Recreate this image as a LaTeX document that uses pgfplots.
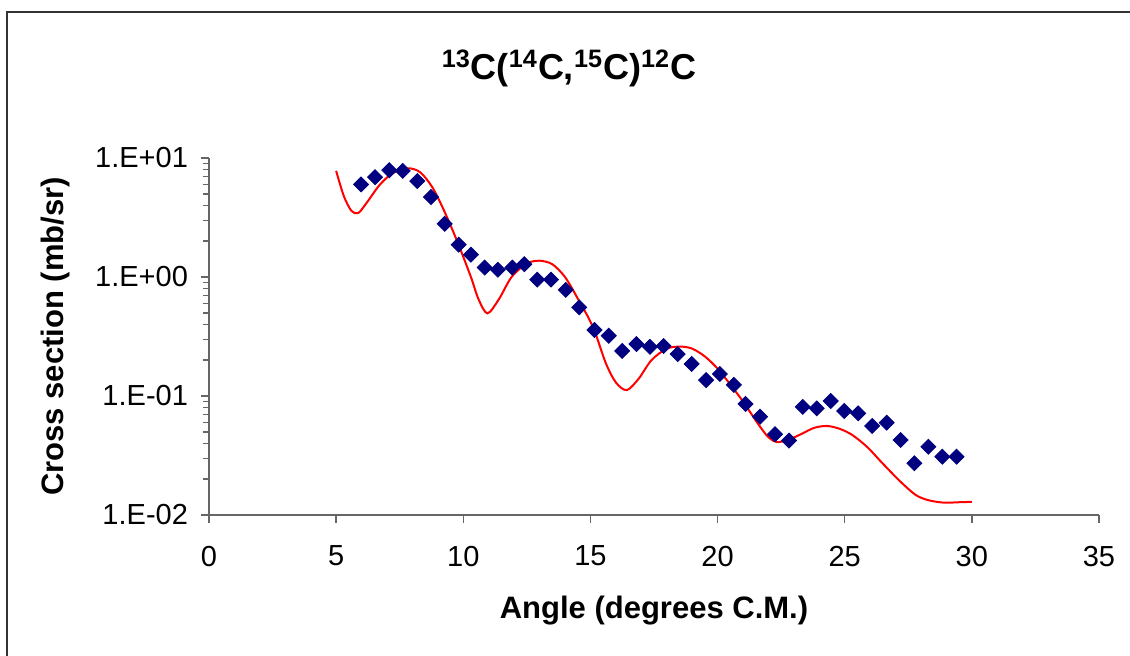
\documentclass[border=0pt]{standalone}
\usepackage{fontspec}
\setmainfont{Liberation Sans}
\usepackage{pgfplots}
\pgfplotsset{compat=1.18}
\definecolor{ptnavy}{RGB}{0,0,128}
\definecolor{fitred}{RGB}{255,0,0}
\begin{document}
\begin{tikzpicture}
\useasboundingbox (-104.5pt,-70.5pt) rectangle (460.5pt,257.5pt);
% outer chart frame (right and bottom edges lie outside the picture)
\draw[black!80, line width=1pt] (-101pt,-90pt) -- (-101pt,251.5pt) -- (480pt,251.5pt);
\node[anchor=base, font=\bfseries\fontsize{18}{21}\selectfont] at (180pt,217.5pt)
  {\textsuperscript{13}C(\textsuperscript{14}C,\textsuperscript{15}C)\textsuperscript{12}C};
\begin{axis}[
  scale only axis,
  width=445pt,
  height=178.5pt,
  xmin=0, xmax=35,
  ymin=0.01, ymax=10,
  ymode=log,
  axis lines*=left,
  hide obscured x ticks=false,
  hide obscured y ticks=false,
  axis line style={-, black!60, line width=0.7pt},
  tick style={black!60, line width=0.7pt},
  tick align=outside,
  major tick length=4pt,
  minor tick num=0,
  xtick={0,5,10,15,20,25,30,35},
  ytick={0.01,0.1,1,10},
  yticklabels={1.E-02,1.E-01,1.E+00,1.E+01},
  /pgf/number format/assume math mode=true,
  ticklabel style={font=\fontsize{14.5}{17}\selectfont},
  xticklabel style={yshift=-8pt},
  yticklabel style={xshift=-3pt},
  xlabel={Angle (degrees C.M.)},
  ylabel={Cross section (mb/sr)},
  label style={font=\bfseries\fontsize{15.5}{18}\selectfont},
  xlabel style={at={(axis description cs:0.5,0)}, anchor=base, yshift=-52pt},
  ylabel style={at={(axis description cs:-0.173,0.5)}, anchor=center, rotate=0},
  clip=false,
]
% measured cross sections
\addplot[only marks, mark=square*, mark size=2.65pt,
  mark options={rotate=45, fill=ptnavy, draw=ptnavy}] coordinates {
(5.98,6.0) (6.53,6.9) (7.09,7.9) (7.62,7.8) (8.19,6.4) (8.73,4.7)
(9.27,2.8) (9.82,1.87) (10.30,1.54) (10.84,1.20) (11.36,1.15) (11.93,1.20)
(12.40,1.28) (12.91,0.95) (13.45,0.95) (14.03,0.78) (14.56,0.556) (15.16,0.359)
(15.72,0.321) (16.25,0.239) (16.81,0.273) (17.34,0.259) (17.88,0.263) (18.43,0.225)
(18.98,0.186) (19.55,0.136) (20.09,0.153) (20.64,0.124) (21.10,0.0857) (21.67,0.067)
(22.26,0.0477) (22.81,0.0422) (23.35,0.081) (23.90,0.0787) (24.45,0.0908) (24.98,0.0748)
(25.53,0.0715) (26.08,0.0560) (26.65,0.0597) (27.20,0.0427) (27.74,0.0272) (28.29,0.0375)
(28.84,0.0309) (29.40,0.0309)
};
% calculation
\addplot[fitred, line width=1pt, smooth, no marks] coordinates {
(5.0,7.8) (5.3,4.8) (5.6,3.6) (5.87,3.45) (6.2,4.2) (6.7,5.9) (7.2,7.4)
(7.8,8.2) (8.3,7.6) (8.8,5.6) (9.3,3.4) (9.8,1.9) (10.3,1.0) (10.6,0.65)
(10.95,0.495) (11.4,0.65) (11.9,1.0) (12.5,1.3) (13.0,1.37) (13.5,1.28)
(14.0,1.0) (14.5,0.66) (15.1,0.38) (15.6,0.19) (16.0,0.13) (16.43,0.112)
(16.9,0.14) (17.4,0.2) (18.0,0.25) (18.54,0.26) (19.0,0.25) (19.5,0.215)
(20.0,0.17) (20.5,0.125) (21.0,0.09) (21.6,0.058) (22.0,0.045) (22.33,0.041)
(22.8,0.043) (23.3,0.048) (23.8,0.054) (24.3,0.056) (24.8,0.053) (25.3,0.047)
(25.9,0.037) (26.5,0.027) (27.2,0.019) (27.8,0.0147) (28.3,0.0133) (28.9,0.0127)
(29.5,0.0128) (30.0,0.0129)
};
\end{axis}
\end{tikzpicture}
\end{document}
